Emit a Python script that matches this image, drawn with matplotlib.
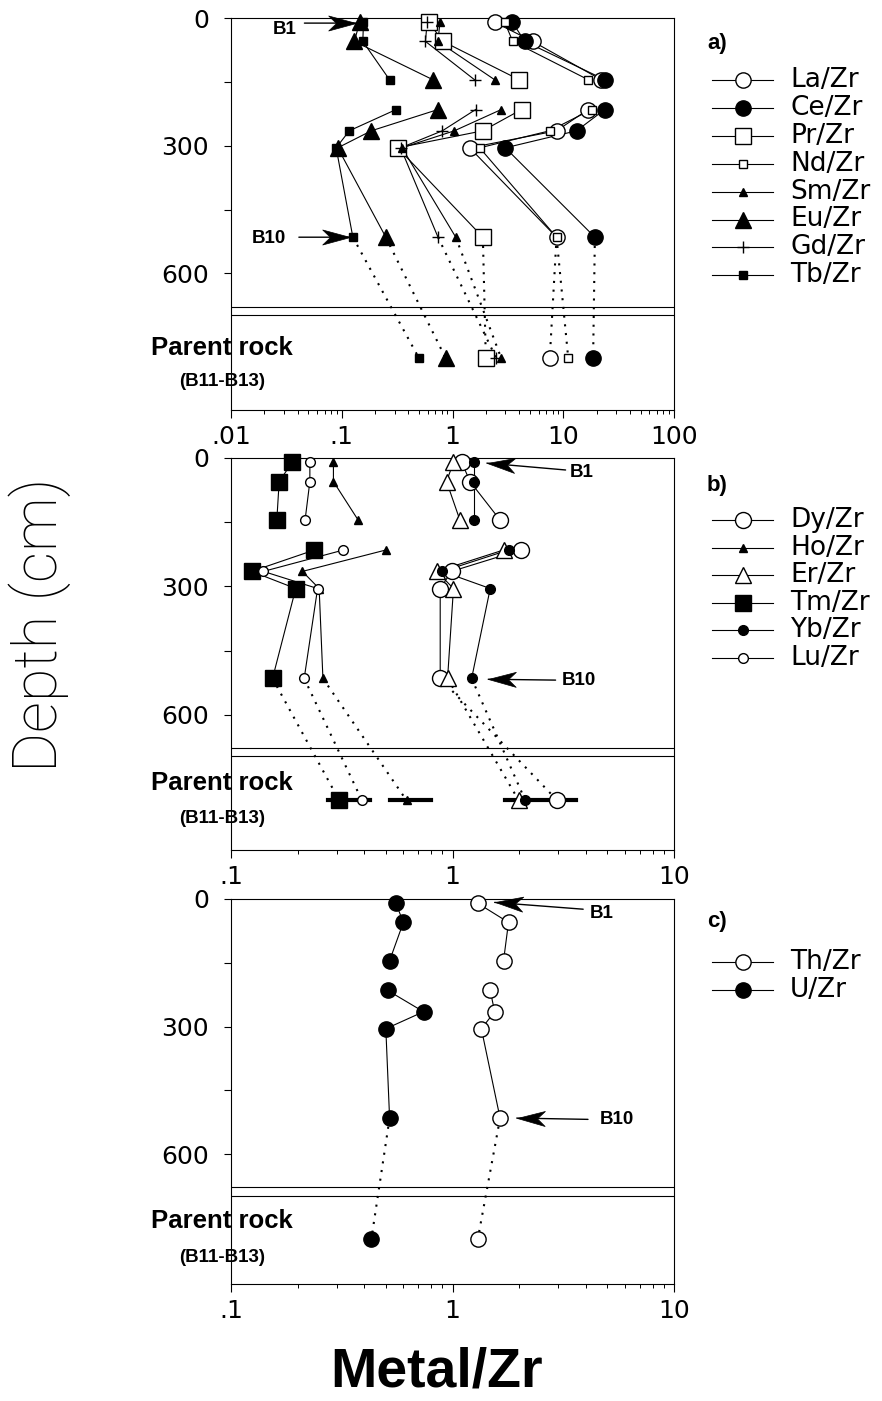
import numpy as np
import matplotlib
matplotlib.use('Agg')
import matplotlib.pyplot as plt
from matplotlib.markers import MarkerStyle
from matplotlib.path import Path
from matplotlib.transforms import Affine2D
from matplotlib.ticker import FixedLocator, LogLocator, NullFormatter

W, H = 882, 1401   # output size in px (dpi 100)

# ── data ──
DEPTH = [10, 55, 145, 215, 265, 305, 515]      # B1 ... B10 samples (cm)
ROCK_DEPTH = 800                               # parent rock (B11-B13) plotted here
SEGMENTS = [(0, 3), (3, 7)]                    # solid-line runs

# a) light REE
A_NAMES = ['La/Zr', 'Ce/Zr', 'Pr/Zr', 'Nd/Zr', 'Sm/Zr', 'Eu/Zr', 'Gd/Zr', 'Tb/Zr']
A_PROFILE = [
    [2.4, 5.3, 22.0, 16.8, 8.7, 1.43, 8.7],
    [3.47, 4.5, 23.7, 23.7, 13.2, 3.0, 19.3],
    [0.61, 0.82, 4.0, 4.2, 1.88, 0.32, 1.88],
    [2.96, 3.5, 16.8, 18.0, 7.55, 1.76, 8.7],
    [0.77, 0.74, 2.4, 2.76, 1.04, 0.35, 1.07],
    [0.145, 0.13, 0.665, 0.74, 0.185, 0.092, 0.25],
    [0.59, 0.57, 1.58, 1.62, 0.81, 0.34, 0.74],
    [0.157, 0.155, 0.27, 0.31, 0.117, 0.089, 0.126],
]
A_ROCK = [7.55, 18.6, 2.0, 11.1, 2.76, 0.87, 2.49, 0.50]

# b) heavy REE
B_NAMES = ['Dy/Zr', 'Ho/Zr', 'Er/Zr', 'Tm/Zr', 'Yb/Zr', 'Lu/Zr']
B_PROFILE = [
    [1.10, 1.20, 1.64, 2.03, 0.99, 0.88, 0.88],
    [0.29, 0.29, 0.375, 0.50, 0.21, 0.25, 0.26],
    [1.01, 0.94, 1.08, 1.70, 0.85, 1.01, 0.95],
    [0.189, 0.165, 0.161, 0.238, 0.124, 0.196, 0.154],
    [1.25, 1.25, 1.25, 1.79, 0.90, 1.48, 1.22],
    [0.227, 0.227, 0.216, 0.322, 0.14, 0.246, 0.214],
]
B_ROCK = [2.97, 0.62, 1.99, 0.308, 2.13, 0.39]
B_ROCK_RANGE = [(0.274, 0.425), (0.524, 0.80), (1.72, 3.61)]

# c) actinides
C_NAMES = ['Th/Zr', 'U/Zr']
C_PROFILE = [
    [1.30, 1.79, 1.70, 1.48, 1.55, 1.35, 1.64],
    [0.555, 0.60, 0.52, 0.51, 0.74, 0.50, 0.52],
]
C_ROCK = [1.30, 0.43]

# marker styles: (marker, size, filled)
STYLE = {
    'La/Zr': ('o', 11, False), 'Ce/Zr': ('o', 11, True),
    'Pr/Zr': ('s', 11, False), 'Nd/Zr': ('s', 6, False),
    'Sm/Zr': ('^', 6, True),   'Eu/Zr': ('^', 12, True),
    'Gd/Zr': ('+', 9, True),   'Tb/Zr': ('s', 6, True),
    'Dy/Zr': ('o', 11.5, False), 'Ho/Zr': ('^', 6, True),
    'Er/Zr': ('^', 12, False),   'Tm/Zr': ('s', 11, True),
    'Yb/Zr': ('o', 7, True),     'Lu/Zr': ('o', 7, False),
    'Th/Zr': ('o', 11, False),   'U/Zr': ('o', 11, True),
}

# barbed arrow head, tip at origin pointing to +x
DART = Path([(0, 0), (-1, 0.27), (-0.72, 0), (-1, -0.27), (0, 0)],
            [Path.MOVETO, Path.LINETO, Path.LINETO, Path.LINETO, Path.CLOSEPOLY])


def mstyle(name):
    m, ms, filled = STYLE[name]
    return dict(marker=m, ms=ms, mfc='k' if filled else 'white', mec='k', mew=1.0)


def px_box(left, top, width, height):
    return [left / W, 1 - (top + height) / H, width / W, height / H]


def profile_panel(ax, names, profiles, rock, ymax, xlim, xticks, xlabels):
    for prof, r in zip(profiles, rock):
        for s0, s1 in SEGMENTS:
            ax.plot(prof[s0:s1], DEPTH[s0:s1], color='k', lw=0.8, zorder=2,
                    clip_on=False)
        ax.plot([prof[-1], r], [DEPTH[-1], ROCK_DEPTH], color='k', lw=1.5,
                ls=(0, (1, 3.2)), zorder=1)
    for i, (name, prof, r) in enumerate(zip(names, profiles, rock)):
        ax.plot(list(prof) + [r], DEPTH + [ROCK_DEPTH], ls='none',
                zorder=3 + i, clip_on=False, **mstyle(name))

    # double line separating soil profile from parent rock
    for yy in (678, 697):
        ax.axhline(yy, color='k', lw=0.8, zorder=0)

    ax.set_xscale('log')
    ax.set_xlim(*xlim)
    ax.set_ylim(ymax, 0)
    ax.set_facecolor('none')
    for sp in ax.spines.values():
        sp.set_linewidth(0.8)

    ax.yaxis.set_major_locator(FixedLocator([0, 300, 600]))
    ax.yaxis.set_minor_locator(FixedLocator([150, 450]))
    ax.set_yticklabels(['0', '300', '600'])
    ax.tick_params(axis='y', which='both', direction='out', length=5,
                   width=0.8, labelsize=18, pad=11)

    ax.xaxis.set_major_locator(FixedLocator(xticks))
    ax.xaxis.set_minor_locator(LogLocator(base=10, subs=range(2, 10)))
    ax.xaxis.set_minor_formatter(NullFormatter())
    ax.set_xticklabels(xlabels)
    ax.tick_params(axis='x', which='major', direction='out', length=6,
                   width=0.8, labelsize=18, pad=5)
    ax.tick_params(axis='x', which='minor', direction='out', length=3,
                   width=0.7)


def parent_label(ax, y_main, y_sub):
    tr = ax.get_yaxis_transform()
    ax.text(-0.02, y_main, 'Parent rock', transform=tr, ha='center',
            va='center', fontsize=18.5, fontweight='bold',
            family='Liberation Sans')
    ax.text(-0.02, y_sub, '(B11-B13)', transform=tr, ha='center',
            va='center', fontsize=13.5, fontweight='bold',
            family='Liberation Sans')


def sample_arrow(ax, label, head, tail, text_xy, ha):
    ax.annotate('', xy=head, xytext=tail,
                arrowprops=dict(arrowstyle='-', lw=1.0, color='k',
                                shrinkA=0, shrinkB=0),
                annotation_clip=False, zorder=20)
    hx, hy = ax.transData.transform(head)
    tx, ty = ax.transData.transform(tail)
    ang = np.arctan2(hy - ty, hx - tx)
    dart = MarkerStyle(DART, transform=Affine2D().rotate(ang))
    ax.plot([head[0]], [head[1]], ls='none', marker=dart, ms=40, mfc='k',
            mec='k', mew=0.5, zorder=21, clip_on=False)
    ax.text(*text_xy, label, ha=ha, va='center', fontsize=13.5,
            fontweight='bold', family='Liberation Sans', zorder=20)


def draw_key(ov, tag, tag_y, names, y0, dy):
    ov.text(707, tag_y, tag, ha='left', va='center', fontsize=16,
            fontweight='bold', family='Liberation Sans')
    for i, name in enumerate(names):
        y = y0 + i * dy
        ov.plot([712, 773], [y, y], color='k', lw=0.8)
        ov.plot([743], [y], ls='none', **mstyle(name))
        ov.text(790, y, name, ha='left', va='center', fontsize=19)


fig = plt.figure(figsize=(W / 100, H / 100), dpi=100)

ov = fig.add_axes([0, 0, 1, 1])
ov.set_xlim(0, W)
ov.set_ylim(H, 0)
ov.axis('off')

ax_a = fig.add_axes(px_box(231, 18, 443, 392))
ax_b = fig.add_axes(px_box(231, 458, 443, 392))
ax_c = fig.add_axes(px_box(231, 899, 443, 385))

profile_panel(ax_a, A_NAMES, A_PROFILE, A_ROCK, 921, (0.01, 100),
              [0.01, 0.1, 1, 10, 100], ['.01', '.1', '1', '10', '100'])
profile_panel(ax_b, B_NAMES, B_PROFILE, B_ROCK, 916, (0.1, 10),
              [0.1, 1, 10], ['.1', '1', '10'])
profile_panel(ax_c, C_NAMES, C_PROFILE, C_ROCK, 905, (0.1, 10),
              [0.1, 1, 10], ['.1', '1', '10'])

# range bars on parent rock (panel b)
for lo, hi in B_ROCK_RANGE:
    ax_b.plot([lo, hi], [ROCK_DEPTH, ROCK_DEPTH], color='k', lw=3.0, zorder=2)

parent_label(ax_a, 776, 853)
parent_label(ax_b, 759, 842)
parent_label(ax_c, 758, 842)

sample_arrow(ax_a, 'B1', (0.135, 12), (0.046, 12), (0.0305, 28), 'center')
sample_arrow(ax_a, 'B10', (0.118, 515), (0.041, 515), (0.022, 517), 'center')
sample_arrow(ax_b, 'B1', (1.43, 12), (3.24, 28), (3.37, 33), 'left')
sample_arrow(ax_b, 'B10', (1.45, 517), (2.92, 519), (3.11, 519), 'left')
sample_arrow(ax_c, 'B1', (1.55, 8), (3.89, 24), (4.17, 35), 'left')
sample_arrow(ax_c, 'B10', (1.95, 515), (4.09, 518), (4.62, 518), 'left')

draw_key(ov, 'a)', 43, A_NAMES, 80, 27.9)
draw_key(ov, 'b)', 485, B_NAMES, 520, 27.6)
draw_key(ov, 'c)', 922, C_NAMES, 962, 28)

ov.text(40, 625, 'Depth (cm)', rotation=90, ha='center', va='center',
        fontsize=44, family='Roboto', fontweight='light')
ov.text(437, 1372, 'Metal/Zr', ha='center', va='center', fontsize=40,
        family='Liberation Sans', fontweight='bold')

fig.savefig('out.png', dpi=100, facecolor='white')
